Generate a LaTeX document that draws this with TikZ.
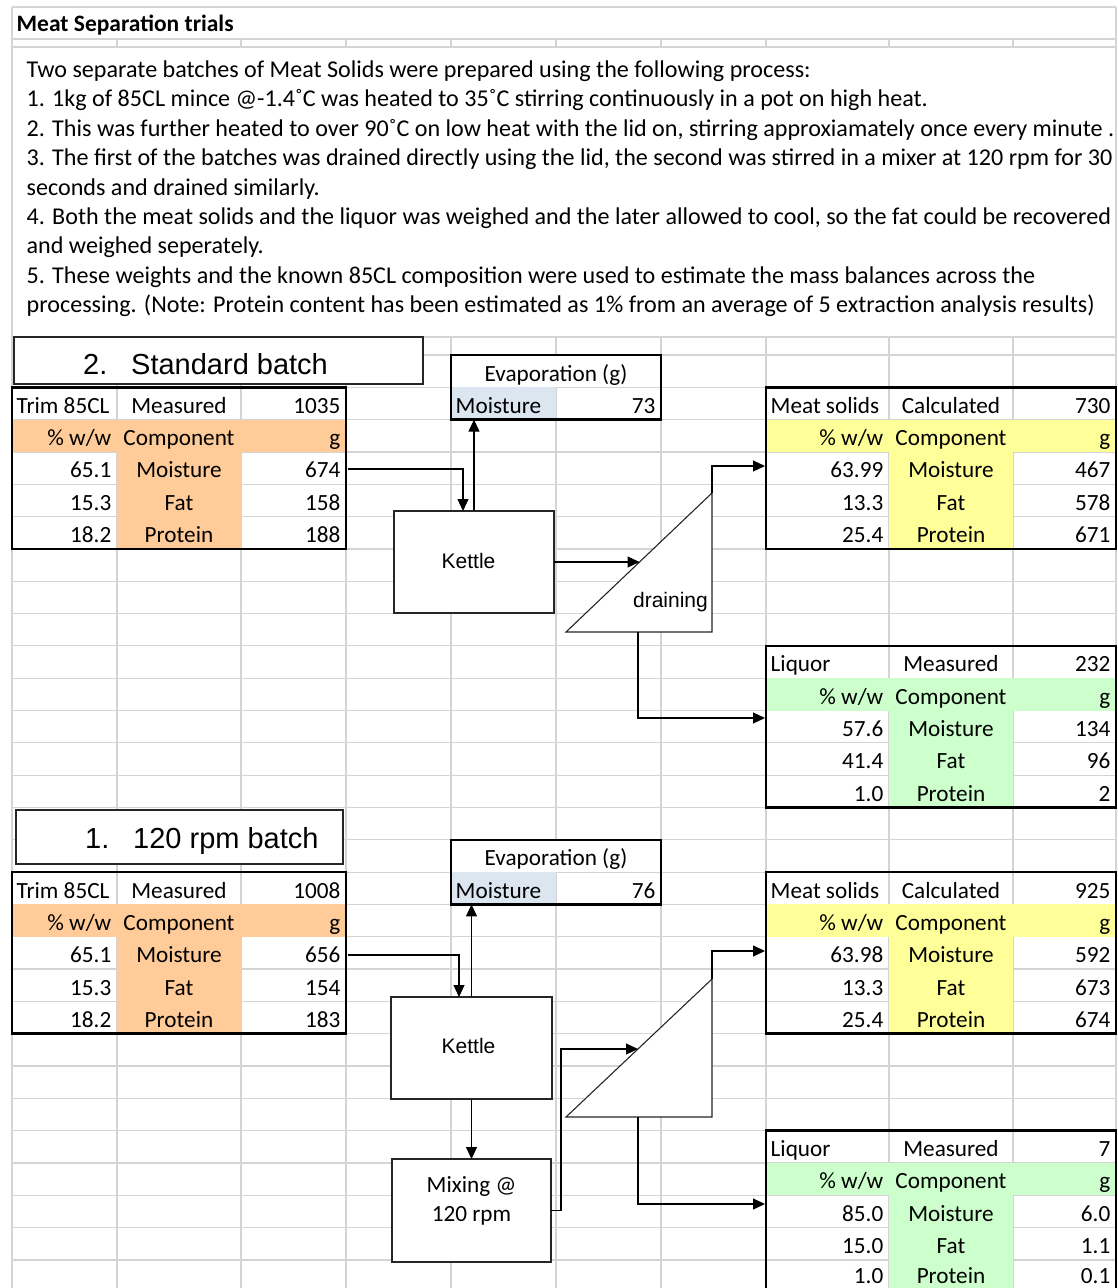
\documentclass[tikz,border=0pt]{standalone}
\usepackage{fontspec}
\setmainfont{Carlito}
\newfontfamily\arialf{Liberation Sans}
\usetikzlibrary{arrows.meta}
\definecolor{gridc}{HTML}{D4D4D4}
\definecolor{orangec}{HTML}{FFCC99}
\definecolor{yellowc}{HTML}{FFFF99}
\definecolor{greenc}{HTML}{CCFFCC}
\definecolor{bluec}{HTML}{DCE6F1}
\newcommand\cfont{\fontsize{23.2}{27}\selectfont}
\newcommand\pfont{\fontsize{24.1}{28}\selectfont}
\newcommand\setcols[4]{\def\xa{#1}\def\xb{#2}\def\xc{#3}\def\xd{#4}}
% #1 name, #2 ytop, #3 colour, #4 title, #5 middle word, #6 total
\newcommand\datatable[6]{%
  \fill[#3] (\xa,#2+32.32) rectangle (\xd,#2+64.64);
  \fill[#3] (\xb,#2+64.64) rectangle (\xc,#2+161.6);
  \node[tframe, anchor=north west, minimum width=\xd pt-\xa pt, minimum height=161.6pt] (#1) at (\xa,#2) {};
  \node[cL] (#1-title) at (\xa+4.5,#2+26) {#4};
  \node[cC] (#1-mid) at ({(\xb+\xc)/2},#2+26) {#5};
  \node[cR] (#1-tot) at (\xd-5.5,#2+26) {#6};
  \node[cR] (#1-pct) at (\xb-5.5,#2+58.3) {\% w/w};
  \node[cC] (#1-comp) at ({(\xb+\xc)/2},#2+58.3) {Component};
  \node[cR] (#1-g) at (\xd-5.5,#2+58.3) {g};
}
% #1 name, #2 baseline, #3 pct, #4 component, #5 value
\newcommand\datarow[5]{%
  \node[cR] (#1-p) at (\xb-5.5,#2) {#3};
  \node[cC] (#1-c) at ({(\xb+\xc)/2},#2) {#4};
  \node[cR] (#1-v) at (\xd-5.5,#2) {#5};
}
\begin{document}
\begin{tikzpicture}[x=1pt,y=-1pt,
  gl/.style={draw=gridc, line width=1.2pt},
  cL/.style={anchor=base west, inner sep=0pt, font=\cfont},
  cC/.style={anchor=base, inner sep=0pt, font=\cfont},
  cR/.style={anchor=base east, inner sep=0pt, font=\cfont},
  pL/.style={anchor=base west, inner sep=0pt, font=\pfont},
  tframe/.style={draw=black, line width=2.6pt, inner sep=0pt, outer sep=0pt},
  flow/.style={draw=black, line width=1.1pt, -{Triangle[length=12pt,width=11pt]}},
  procbox/.style={draw=black!85, line width=1.1pt, fill=white, inner sep=0pt, outer sep=0pt, anchor=north west},
  kfont/.style={anchor=base, inner sep=0pt, font=\arialf\fontsize{21}{25}\selectfont},
  bfont/.style={anchor=base west, inner sep=0pt, font=\arialf\fontsize{29}{34}\selectfont},
]
\useasboundingbox (0,0) rectangle (1118,1288);
\fill[white] (0,0) rectangle (1118,1288);

% ---------- grid ----------
\foreach \y in {7,39,47,337}
  \draw[gl] (12,\y) -- (1116,\y);
\foreach \k in {0,...,28}
  \draw[gl] (12,355+32.32*\k) -- (1116,355+32.32*\k);
\draw[gl] (12,7) -- (12,1288);
\draw[gl] (1116,7) -- (1116,1288);
\foreach \x in {117,241,346,451,556,661,766,889,1013} {
  \draw[gl] (\x,39) -- (\x,47);
  \draw[gl] (\x,337) -- (\x,1288);
}

% ---------- heading and notes ----------
\node[anchor=base west, inner sep=0pt, font=\bfseries\fontsize{23.5}{27}\selectfont] (title) at (16.5,31) {Meat Separation trials};
\node[pL] (n1) at (26.5,77.5) {Two separate batches of Meat Solids were prepared using the following process:};
\node[pL] (n2) at (26.5,106.9) {1. 1kg of 85CL mince @-1.4˚C was heated to 35˚C stirring continuously in a pot on high heat.};
\node[pL] (n3) at (26.5,136.3) {2. This was further heated to over 90˚C on low heat with the lid on, stirring approxiamately once every minute .};
\node[pL] (n4) at (26.5,165.7) {3. The first of the batches was drained directly using the lid, the second was stirred in a mixer at 120 rpm for 30};
\node[pL] (n5) at (26.5,195.1) {seconds and drained similarly.};
\node[pL] (n6) at (26.5,224.5) {4. Both the meat solids and the liquor was weighed and the later allowed to cool, so the fat could be recovered};
\node[pL] (n7) at (26.5,253.9) {and weighed seperately.};
\node[pL] (n8) at (26.5,283.3) {5. These weights and the known 85CL composition were used to estimate the mass balances across the};
\node[pL] (n9) at (26.5,312.7) {processing. (Note: Protein content has been estimated as 1\% from an average of 5 extraction analysis results)};

% ---------- batch title boxes ----------
\node[procbox, minimum width=409pt, minimum height=47pt] (sbox) at (14,337) {};
\node[bfont] (sbnum) at (83,374) {2.};
\node[bfont] (sbtxt) at (131,374) {Standard batch};
\node[procbox, minimum width=327pt, minimum height=54pt] (rbox) at (16,810) {};
\node[bfont] (rbnum) at (85,848) {1.};
\node[bfont] (rbtxt) at (133,848) {120 rpm batch};

% ---------- data tables ----------
\setcols{12}{117}{241}{346}
\datatable{trimA}{387.32}{orangec}{Trim 85CL}{Measured}{1035}
\datarow{trimA1}{477.96}{65.1}{Moisture}{674}
\datarow{trimA2}{510.28}{15.3}{Fat}{158}
\datarow{trimA3}{542.6}{18.2}{Protein}{188}
\datatable{trimB}{872.12}{orangec}{Trim 85CL}{Measured}{1008}
\datarow{trimB1}{962.76}{65.1}{Moisture}{656}
\datarow{trimB2}{995.08}{15.3}{Fat}{154}
\datarow{trimB3}{1027.4}{18.2}{Protein}{183}

\setcols{766}{889}{1013}{1116}
\datatable{msA}{387.32}{yellowc}{Meat solids}{Calculated}{730}
\datarow{msA1}{477.96}{63.99}{Moisture}{467}
\datarow{msA2}{510.28}{13.3}{Fat}{578}
\datarow{msA3}{542.6}{25.4}{Protein}{671}
\datatable{lqA}{645.88}{greenc}{Liquor}{Measured}{232}
\datarow{lqA1}{736.52}{57.6}{Moisture}{134}
\datarow{lqA2}{768.84}{41.4}{Fat}{96}
\datarow{lqA3}{801.16}{1.0}{Protein}{2}
\datatable{msB}{872.12}{yellowc}{Meat solids}{Calculated}{925}
\datarow{msB1}{962.76}{63.98}{Moisture}{592}
\datarow{msB2}{995.08}{13.3}{Fat}{673}
\datarow{msB3}{1027.4}{25.4}{Protein}{674}
\datatable{lqB}{1130.68}{greenc}{Liquor}{Measured}{7}
\datarow{lqB1}{1221.32}{85.0}{Moisture}{6.0}
\datarow{lqB2}{1253.64}{15.0}{Fat}{1.1}
\datarow{lqB3}{1283.2}{1.0}{Protein}{0.1}

% ---------- evaporation boxes ----------
\fill[white] (452,356) rectangle (660,386.5);
\fill[bluec] (451,387.32) rectangle (556,419.64);
\node[tframe, anchor=north west, minimum width=210pt, minimum height=64.64pt] (evapA) at (451,355) {};
\node[cC] (evapA-h) at (556,381) {Evaporation (g)};
\node[cL] (evapA-m) at (455.5,413.3) {Moisture};
\node[cR] (evapA-v) at (655.5,413.3) {73};

\fill[white] (452,840.8) rectangle (660,871.5);
\fill[bluec] (451,872.12) rectangle (556,904.44);
\node[tframe, anchor=north west, minimum width=210pt, minimum height=64.64pt] (evapB) at (451,839.8) {};
\node[cC] (evapB-h) at (556,865.8) {Evaporation (g)};
\node[cL] (evapB-m) at (455.5,898.1) {Moisture};
\node[cR] (evapB-v) at (655.5,898.1) {76};

% ---------- process shapes ----------
\node[procbox, minimum width=160pt, minimum height=102pt] (kettleA) at (394,511) {};
\node[kfont] (kettleA-t) at (468.5,568.3) {Kettle};
\draw[draw=black!85, line width=1.1pt, fill=white] (566,632) coordinate (dA-bl) -- (712,632) -- (712,493) coordinate (dA-top) -- cycle;
\node[anchor=base east, inner sep=0pt, font=\arialf\fontsize{21}{25}\selectfont] (dA-t) at (708,607) {draining};

\node[procbox, minimum width=161pt, minimum height=102pt] (kettleB) at (391,997) {};
\node[kfont] (kettleB-t) at (468.5,1053) {Kettle};
\node[procbox, minimum width=159pt, minimum height=103pt] (mixB) at (392,1159) {};
\node[cC] (mixB-t1) at (471.5,1192) {Mixing @};
\node[cC] (mixB-t2) at (471.5,1221) {120 rpm};
\draw[draw=black!85, line width=1.1pt, fill=white] (566,1117) coordinate (dB-bl) -- (712,1117) -- (712,979) coordinate (dB-top) -- cycle;

% ---------- connector end points ----------
\coordinate (trimA-out) at (347.5,469);
\coordinate (dA-in) at (639.5,562);
\coordinate (dA-bot) at (638,632);
\coordinate (msA-in) at (765,466);
\coordinate (lqA-in) at (765,718);
\coordinate (trimB-out) at (347.5,955);
\coordinate (dB-in) at (638,1049);
\coordinate (dB-bot) at (638,1117);
\coordinate (msB-in) at (765,951);
\coordinate (lqB-in) at (765,1204);

% ---------- connectors ----------
\draw[flow] (trimA-out) -| ([xshift=-11pt]kettleA.north);
\draw[flow] (kettleA.north) -- (kettleA.north |- evapA.south);
\draw[flow] (kettleA.east) -- (dA-in);
\draw[flow] (dA-top) |- (msA-in);
\draw[flow] (dA-bot) |- (lqA-in);

\draw[flow] (trimB-out) -| ([xshift=-12.5pt]kettleB.north);
\draw[flow] (kettleB.north) -- (kettleB.north |- evapB.south);
\draw[flow] (kettleB.south) -- (mixB.north);
\draw[flow] (mixB.east) -- ++(10,0) |- (dB-in);
\draw[flow] (dB-top) |- (msB-in);
\draw[flow] (dB-bot) |- (lqB-in);
\end{tikzpicture}
\end{document}
